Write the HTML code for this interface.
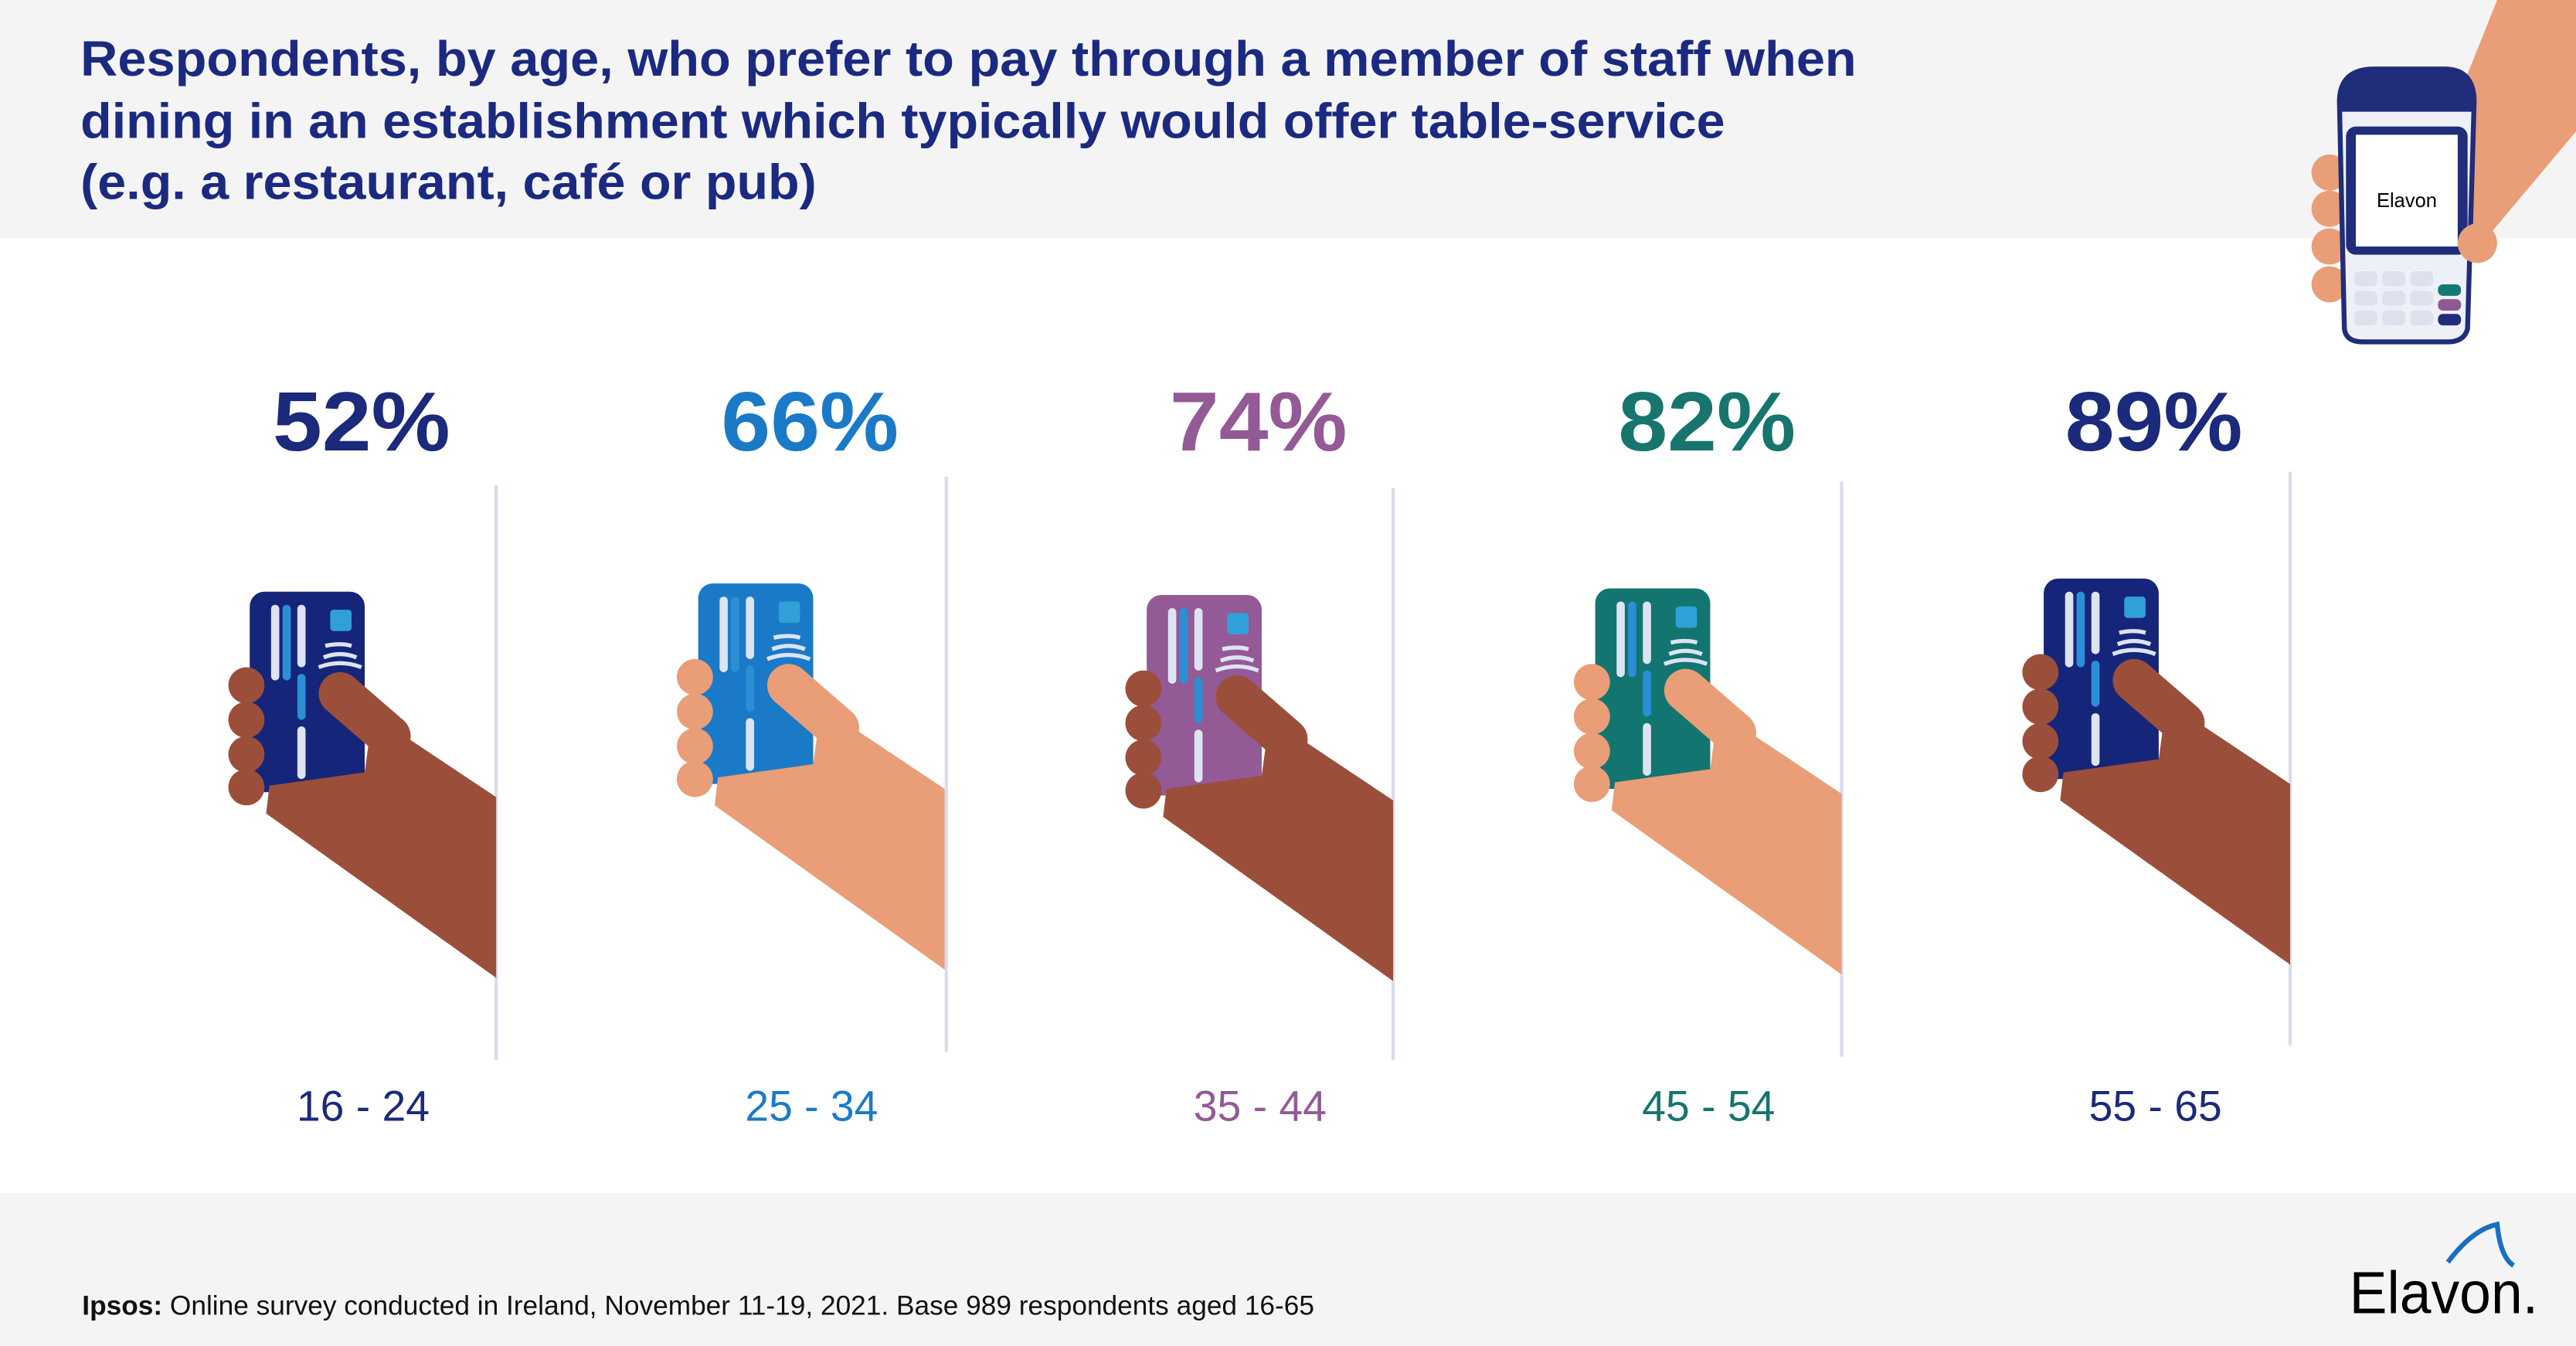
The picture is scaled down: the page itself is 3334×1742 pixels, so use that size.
<!DOCTYPE html>
<html><head><meta charset="utf-8"><style>
html,body{margin:0;padding:0;background:#fff}
svg{display:block}
text{font-family:"Liberation Sans",Arial,sans-serif}
</style></head><body>
<svg width="3334" height="1742" viewBox="0 0 1568 819" preserveAspectRatio="none" xmlns="http://www.w3.org/2000/svg">
<rect x="0" y="0" width="1568" height="819" fill="#fff"/>
<rect x="0" y="0" width="1568" height="145" fill="#f4f4f4"/>
<rect x="0" y="726" width="1568" height="93" fill="#f4f4f4"/>
<g font-weight="bold" font-size="30" fill="#1b2a80">
<text x="49" y="46" textLength="1081" lengthAdjust="spacingAndGlyphs">Respondents, by age, who prefer to pay through a member of staff when</text>
<text x="49" y="84" textLength="1001" lengthAdjust="spacingAndGlyphs">dining in an establishment which typically would offer table-service</text>
<text x="49" y="121" textLength="448" lengthAdjust="spacingAndGlyphs">(e.g. a restaurant, café or pub)</text>
</g>
<!-- top-right terminal -->
<polygon points="1520,0 1568,0 1568,80 1505,155 1480,100" fill="#e99e78"/>
<g fill="#e99e78"><circle cx="1418" cy="105" r="11"/><circle cx="1418" cy="127" r="11"/><circle cx="1418" cy="150" r="11"/><circle cx="1418" cy="173" r="11"/></g>
<path d="M1424,62 Q1424,42 1445,42 L1488,42 Q1506,42 1506,62 L1502,200 Q1500,208 1490,208 L1438,208 Q1428,208 1427,200 Z" fill="#eef0f8" stroke="#1f2d7a" stroke-width="3"/>
<path d="M1424,62 Q1424,42 1445,42 L1488,42 Q1506,42 1506,62 L1506,68 L1424,68 Z" fill="#1f2d7a"/>
<rect x="1428" y="77" width="74" height="78" rx="6" fill="#1f2d7a"/>
<rect x="1434" y="82" width="62" height="68" fill="#fff"/>
<text x="1465" y="126" font-size="12" text-anchor="middle" fill="#000">Elavon</text>
<g fill="#dde1ee"><rect x="1433" y="165" width="14" height="9" rx="3"/><rect x="1450" y="165" width="14" height="9" rx="3"/><rect x="1467" y="165" width="14" height="9" rx="3"/><rect x="1433" y="177" width="14" height="9" rx="3"/><rect x="1450" y="177" width="14" height="9" rx="3"/><rect x="1467" y="177" width="14" height="9" rx="3"/><rect x="1433" y="189" width="14" height="9" rx="3"/><rect x="1450" y="189" width="14" height="9" rx="3"/><rect x="1467" y="189" width="14" height="9" rx="3"/></g>
<rect x="1484" y="173" width="14" height="7" rx="3" fill="#147a70"/>
<rect x="1484" y="182" width="14" height="7" rx="3" fill="#8d5a92"/>
<rect x="1484" y="191" width="14" height="7" rx="3" fill="#1f2d7a"/>
<circle cx="1508" cy="148" r="12" fill="#e99e78"/>

<!-- panels -->
<g font-weight="bold" font-size="51" text-anchor="middle">
<text x="220" y="274" fill="#1b2a7a" textLength="108" lengthAdjust="spacingAndGlyphs">52%</text>
<text x="493" y="274" fill="#1a7ac8" textLength="108" lengthAdjust="spacingAndGlyphs">66%</text>
<text x="766" y="274" fill="#935a96" textLength="108" lengthAdjust="spacingAndGlyphs">74%</text>
<text x="1039" y="274" fill="#17756e" textLength="108" lengthAdjust="spacingAndGlyphs">82%</text>
<text x="1311" y="274" fill="#1b2a7a" textLength="108" lengthAdjust="spacingAndGlyphs">89%</text>
</g>
<g font-size="26" text-anchor="middle">
<text x="221" y="682" fill="#1b2a7a">16 - 24</text>
<text x="494" y="682" fill="#1a7ac8">25 - 34</text>
<text x="767" y="682" fill="#935a96">35 - 44</text>
<text x="1040" y="682" fill="#17756e">45 - 54</text>
<text x="1312" y="682" fill="#1b2a7a">55 - 65</text>
</g>
<g stroke="#d9dcea" stroke-width="2">
<line x1="302" y1="295" x2="302" y2="645"/>
<line x1="576" y1="290" x2="576" y2="640"/>
<line x1="848" y1="297" x2="848" y2="645"/>
<line x1="1121" y1="293" x2="1121" y2="643"/>
<line x1="1394" y1="287" x2="1394" y2="636"/>
</g>
<defs>
<g id="hand">
<rect x="0" y="0" width="70" height="122" rx="9" fill="currentColor"/>
<rect x="13" y="8" width="5" height="46" rx="2.5" fill="#dde3f3"/>
<rect x="20" y="8" width="5" height="46" rx="2.5" fill="#2b8fd6"/>
<rect x="29" y="8" width="5" height="38" rx="2.5" fill="#dde3f3"/>
<rect x="29" y="50" width="5" height="28" rx="2.5" fill="#2b8fd6"/>
<rect x="29" y="82" width="5" height="32" rx="2.5" fill="#dde3f3"/>
<rect x="49" y="11" width="13" height="13" rx="2" fill="#2fa0d8"/>
<path d="M45,40 Q55,36 65,40 M42,46 Q55,41 68,46 M46,33 Q55,31 62,33" stroke="#dde3f3" stroke-width="2.5" fill="none"/>
<polygon points="75,75 150,125 150,235 10,135 12,118 70,110 72,95" fill="var(--skin)"/>
<line x1="55" y1="62" x2="85" y2="88" stroke="var(--skin)" stroke-width="26" stroke-linecap="round"/>
<circle cx="-2" cy="57" r="11" fill="var(--skin)"/>
<circle cx="-2" cy="78" r="11" fill="var(--skin)"/>
<circle cx="-2" cy="99" r="11" fill="var(--skin)"/>
<circle cx="-2" cy="119" r="11" fill="var(--skin)"/>
</g>
</defs>
<use href="#hand" x="152" y="360" style="color:#15257a;--skin:#9b4f3a"/>
<use href="#hand" x="425" y="355" style="color:#1a7ac8;--skin:#e99e78"/>
<use href="#hand" x="698" y="362" style="color:#935a96;--skin:#9b4f3a"/>
<use href="#hand" x="971" y="358" style="color:#127570;--skin:#e99e78"/>
<use href="#hand" x="1244" y="352" style="color:#15257a;--skin:#9b4f3a"/>

<!-- footer -->
<text x="50" y="800" font-size="16.5" fill="#111" textLength="750" lengthAdjust="spacingAndGlyphs"><tspan font-weight="bold">Ipsos:</tspan> Online survey conducted in Ireland, November 11-19, 2021. Base 989 respondents aged 16-65</text>
<text x="1430" y="799" font-size="36" fill="#000" textLength="115" lengthAdjust="spacingAndGlyphs">Elavon.</text>
<path d="M1490,768 Q1505,748 1520,745 Q1522,765 1530,770" stroke="#1a6fc0" stroke-width="3" fill="none"/>
</svg>
</body></html>
